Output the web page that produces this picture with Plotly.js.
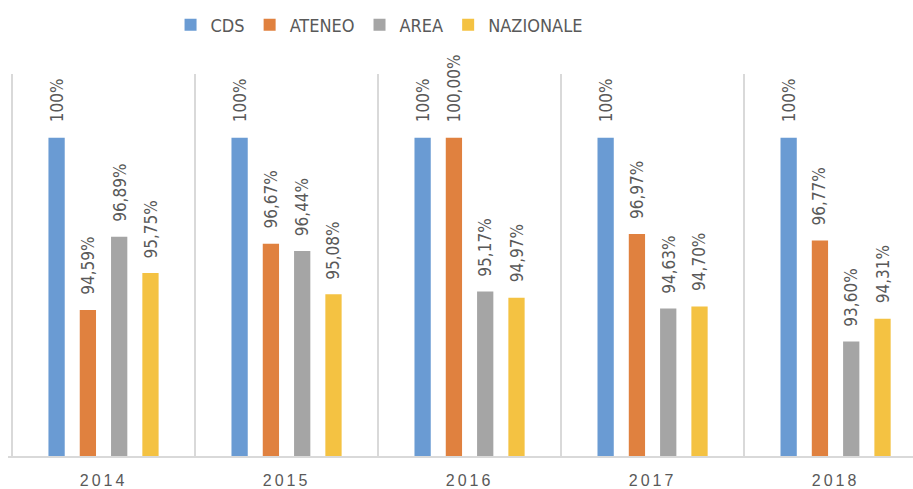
<!DOCTYPE html>
<html>
<head>
<meta charset="utf-8">
<script src="https://cdn.plot.ly/plotly-3.0.1.min.js"></script>
<style>
html,body{margin:0;padding:0;background:#fff;}
#chart{width:913px;height:489px;}
.xaxislayer-above .xtick text{letter-spacing:3px;}
</style>
</head>
<body>
<div id="chart"></div>
<script>
const years = ["2014", "2015", "2016", "2017", "2018"];
const seriesNames = ["CDS", "ATENEO", "AREA", "NAZIONALE"];
const cds = [100, 100, 100, 100, 100];
const ateneo = [94.59, 96.67, 100.00, 96.97, 96.77];
const area = [96.89, 96.44, 95.17, 94.63, 93.60];
const nazionale = [95.75, 95.08, 94.97, 94.70, 94.31];
const cdsLabels = ["100%", "100%", "100%", "100%", "100%"];
const ateneoLabels = ["94,59%", "96,67%", "100,00%", "96,97%", "96,77%"];
const areaLabels = ["96,89%", "96,44%", "95,17%", "94,63%", "93,60%"];
const nazionaleLabels = ["95,75%", "95,08%", "94,97%", "94,70%", "94,31%"];
const colors = ["#6A9BD3", "#E0813F", "#A5A5A5", "#F4C242"];

const FONT = '"Liberation Sans Narrow", "DejaVu Sans Condensed", "Arial Narrow", "Liberation Sans", sans-serif';
const values = [cds, ateneo, area, nazionale];
const labels = [cdsLabels, ateneoLabels, areaLabels, nazionaleLabels];
const bargap = 0.316;
const slot = (1 - bargap) / seriesNames.length;

const traces = seriesNames.map((name, j) => ({
  type: 'bar',
  name: name,
  x: years,
  y: values[j],
  marker: {color: colors[j]},
  hoverinfo: 'skip'
}));

const annotations = [];
values.forEach((vals, j) => {
  vals.forEach((v, i) => {
    annotations.push({
      x: i + (j - (seriesNames.length - 1) / 2) * slot,
      y: v,
      xref: 'x', yref: 'y',
      text: labels[j][i],
      showarrow: false,
      textangle: -90,
      yanchor: 'bottom',
      xanchor: 'center',
      yshift: 13,
      font: {family: FONT, size: 17, color: '#595959'}
    });
  });
});

const layout = {
  width: 913, height: 489,
  margin: {l: 8, r: 0, t: 74, b: 33},
  paper_bgcolor: '#ffffff', plot_bgcolor: '#ffffff',
  barmode: 'group',
  bargap: bargap,
  bargroupgap: 0.48,
  showlegend: true,
  legend: {
    orientation: 'h',
    x: 0.41, xanchor: 'center',
    y: 1.128, yanchor: 'middle',
    font: {family: FONT, size: 18, color: '#595959'},
    itemwidth: 30,
    tracegroupgap: 0
  },
  xaxis: {
    type: 'category',
    range: [-0.522, 4.423],
    tickson: 'boundaries',
    showgrid: true,
    gridcolor: '#D9D9D9',
    gridwidth: 1.3,
    showline: true,
    linecolor: '#D9D9D9',
    linewidth: 1.5,
    ticks: '',
    ticklabelstandoff: 9,
    tickfont: {family: '"Liberation Sans", Arial, sans-serif', size: 16, color: '#595959'},
    zeroline: false,
    fixedrange: true
  },
  yaxis: {
    range: [90, 102],
    showgrid: false,
    showticklabels: false,
    showline: false,
    zeroline: false,
    ticks: '',
    fixedrange: true
  },
  annotations: annotations
};

Plotly.newPlot('chart', traces, layout, {displayModeBar: false, staticPlot: true});
</script>
</body>
</html>
